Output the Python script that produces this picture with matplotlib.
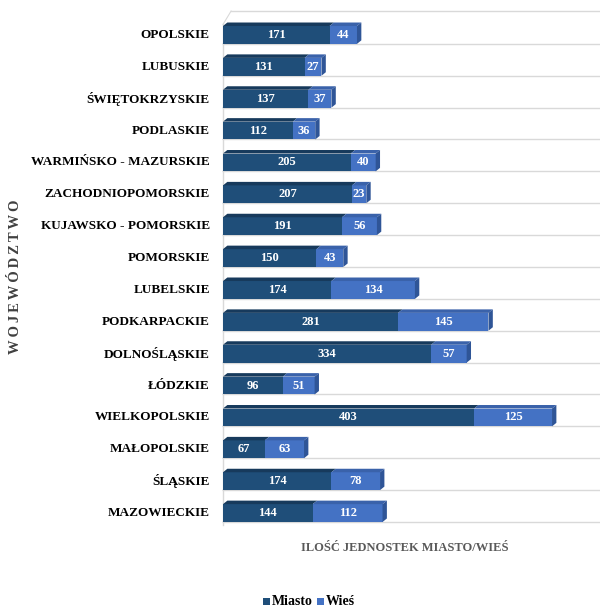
import matplotlib
matplotlib.use("Agg")
import matplotlib.pyplot as plt
from matplotlib.patches import Polygon, Rectangle

categories = ["OPOLSKIE", "LUBUSKIE", "ŚWIĘTOKRZYSKIE", "PODLASKIE",
              "WARMIŃSKO - MAZURSKIE", "ZACHODNIOPOMORSKIE", "KUJAWSKO - POMORSKIE",
              "POMORSKIE", "LUBELSKIE", "PODKARPACKIE", "DOLNOŚLĄSKIE", "ŁÓDZKIE",
              "WIELKOPOLSKIE", "MAŁOPOLSKIE", "ŚLĄSKIE", "MAZOWIECKIE"]
miasto = [171, 131, 137, 112, 205, 207, 191, 150, 174, 281, 334, 96, 403, 67, 174, 144]
wies = [44, 27, 37, 36, 40, 23, 56, 43, 134, 145, 57, 51, 125, 63, 78, 112]
series_names = ["Miasto", "Wieś"]
x_title = "ILOŚĆ JEDNOSTEK MIASTO/WIEŚ"
y_title = "WOJEWÓDZTWO"

C_M = "#1F4E79"
C_W = "#4472C4"
C_M_TOP = "#173A5C"
C_W_TOP = "#3A62AA"
C_M_SIDE = "#163656"
C_W_SIDE = "#2F5597"

SERIF = ["Liberation Serif", "DejaVu Serif"]

fig = plt.figure(figsize=(6.0, 6.08), dpi=100)
W, H = 600, 608
ax_left, ax_right = 223, 600
ax_top, ax_bot = 19, 529
ax = fig.add_axes([ax_left / W, 1 - ax_bot / H, (ax_right - ax_left) / W, (ax_bot - ax_top) / H])
n = len(categories)
ax.set_xlim(0, 605)
ax.set_ylim(-0.5, n - 0.5)
ax.axis("off")

ys = [n - 1 - i for i in range(n)]
h = 0.56
ddx, ddy = 7.0, 0.11   # bar depth
wdx, wdy = 13.0, 0.42  # wall depth

grid_c = "#D9D9D9"
for k in range(n):
    yb = ys[k] - h / 2
    ax.plot([0, 605], [yb, yb], color=grid_c, lw=1.0, zorder=0, clip_on=False)
    ax.plot([0, wdx], [yb, yb + wdy], color=grid_c, lw=0.8, zorder=0, clip_on=False)
top_y = ys[0] + 0.75
ax.plot([wdx, 605], [top_y, top_y], color=grid_c, lw=1.0, zorder=0, clip_on=False)
ax.plot([0, wdx], [top_y - wdy, top_y], color=grid_c, lw=0.8, zorder=0, clip_on=False)
ax.plot([0, 0], [ys[-1] - h / 2 - 0.1, top_y - wdy], color=grid_c, lw=1.0, zorder=0, clip_on=False)


def bar3d(left, width, y, c, ctop, cside, draw_side):
    ax.barh(y, width, left=left, height=h, color=c, zorder=3)
    t = y + h / 2
    ax.add_patch(Polygon([[left, t], [left + ddx, t + ddy], [left + width + ddx, t + ddy], [left + width, t]],
                         closed=True, facecolor=ctop, edgecolor="none", zorder=3))
    if draw_side:
        r = left + width
        ax.add_patch(Polygon([[r, t], [r + ddx, t + ddy], [r + ddx, y - h / 2 + ddy], [r, y - h / 2]],
                             closed=True, facecolor=cside, edgecolor="none", zorder=3))


for i in range(n):
    y = ys[i]
    bar3d(0, miasto[i], y, C_M, C_M_TOP, C_M_SIDE, False)
    bar3d(miasto[i], wies[i], y, C_W, C_W_TOP, C_W_SIDE, True)
    ax.text(miasto[i] / 2, y, str(miasto[i]), ha="center", va="center", color="white",
            fontsize=9, fontweight="bold", family=SERIF, zorder=5)
    ax.text(miasto[i] + wies[i] / 2, y, str(wies[i]), ha="center", va="center", color="white",
            fontsize=9, fontweight="bold", family=SERIF, zorder=5)
    ax.text(-0.035, y, categories[i], transform=ax.get_yaxis_transform(), ha="right", va="center",
            color="black", fontsize=9.5, fontweight="bold", family=SERIF)

fig.text(405 / W, 1 - 548 / H, x_title, ha="center", va="center", color="#595959",
         fontsize=9, fontweight="bold", family=SERIF)
fig.text(16 / W, 1 - 277 / H, "\u2009".join(y_title), ha="center", va="center", rotation=90,
         color="#404040", fontsize=10.5, fontweight="bold", family=SERIF)

# legend: square markers as patches, labels as text
for x0, col, lbl in [(263, C_M, series_names[0]), (317, C_W, series_names[1])]:
    fig.patches.append(Rectangle((x0 / W, 1 - 605 / H), 7 / W, 7 / H, transform=fig.transFigure,
                                 facecolor=col, edgecolor="none"))
    fig.text((x0 + 9) / W, 1 - 605 / H, lbl, ha="left", va="baseline", color="black",
             fontsize=10, fontweight="bold", family=SERIF)

fig.savefig("out.png", dpi=100, facecolor="white")
